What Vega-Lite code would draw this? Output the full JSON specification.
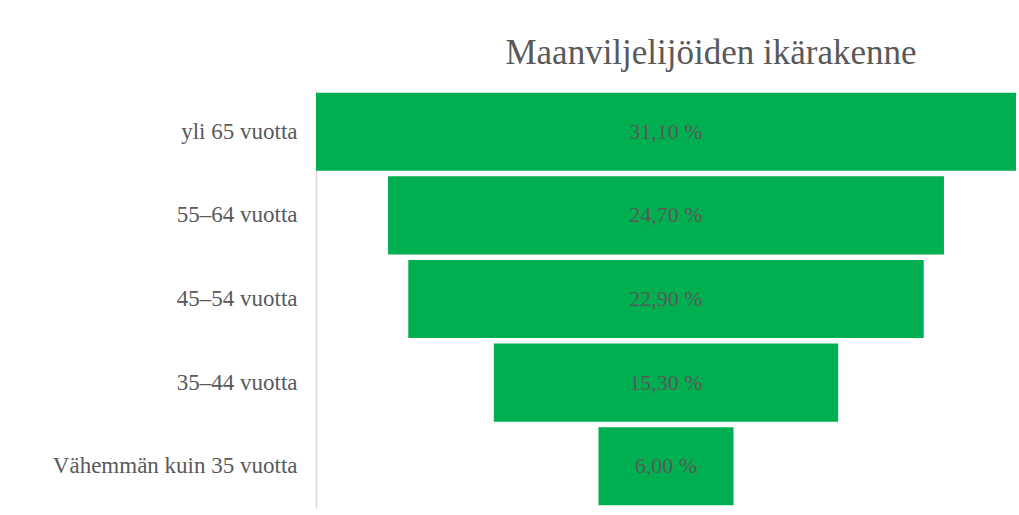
{
  "$schema": "https://vega.github.io/schema/vega-lite/v6.json",
  "autosize": "none",
  "width": 700,
  "height": 418,
  "padding": {"left": 316, "top": 90, "right": 3, "bottom": 7},
  "background": "white",
  "config": {
    "view": {"stroke": null},
    "font": "Liberation Serif",
    "locale": {
      "number": {"decimal": ",", "thousands": " ", "grouping": [3], "currency": ["", " €"], "percent": " %"}
    }
  },
  "title": {
    "text": "Maanviljelijöiden ikärakenne",
    "font": "Liberation Serif",
    "fontSize": 35,
    "fontWeight": "normal",
    "color": "#595959",
    "anchor": "middle",
    "dx": 45,
    "offset": 19
  },
  "data": {
    "values": [
      {"ika": "yli 65 vuotta", "osuus": 0.311},
      {"ika": "55–64 vuotta", "osuus": 0.247},
      {"ika": "45–54 vuotta", "osuus": 0.229},
      {"ika": "35–44 vuotta", "osuus": 0.153},
      {"ika": "Vähemmän kuin 35 vuotta", "osuus": 0.06}
    ]
  },
  "encoding": {
    "y": {
      "field": "ika",
      "type": "nominal",
      "sort": null,
      "scale": {"paddingInner": 0.066, "paddingOuter": 0.033},
      "axis": {
        "title": null,
        "ticks": false,
        "labelPadding": 19,
        "labelLimit": 320,
        "labelFont": "Liberation Serif",
        "labelFontSize": 23,
        "labelColor": "#595959",
        "domainColor": "#d9d9d9",
        "domainWidth": 1.5
      }
    }
  },
  "layer": [
    {
      "mark": {"type": "bar", "color": "#00b050"},
      "encoding": {
        "x": {
          "field": "osuus",
          "type": "quantitative",
          "stack": "center",
          "scale": {"domain": [0, 0.311], "nice": false, "zero": false},
          "axis": null
        }
      }
    },
    {
      "mark": {"type": "text", "font": "Liberation Serif", "fontSize": 22, "color": "#595959", "align": "center", "baseline": "middle"},
      "encoding": {
        "x": {"datum": 0.1555, "type": "quantitative"},
        "text": {"field": "osuus", "type": "quantitative", "format": ".2%"}
      }
    }
  ]
}
